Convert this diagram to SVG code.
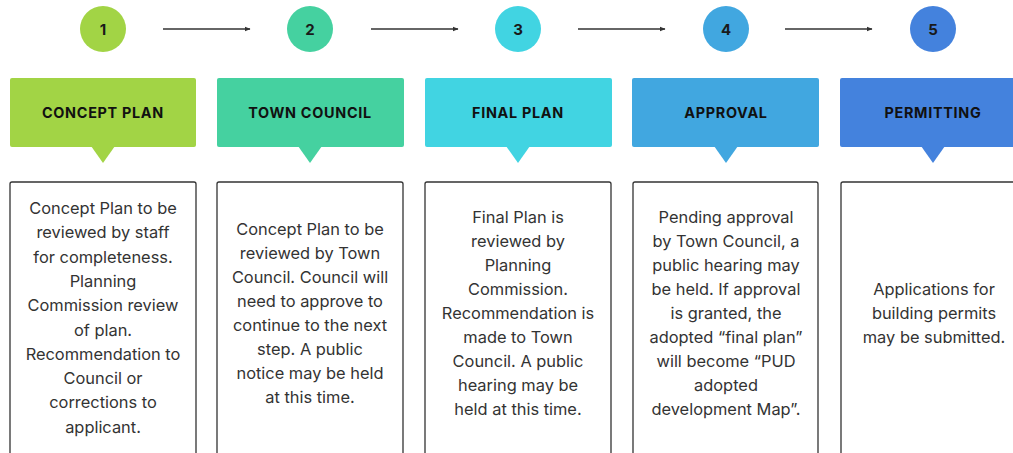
<svg xmlns="http://www.w3.org/2000/svg" width="1013" height="453" viewBox="0 0 1013 453">
<style>
.num{font-family:Inter,"Liberation Sans",sans-serif;font-weight:700;font-size:15px;fill:#1a1a1a;text-anchor:middle}
.hd{font-family:Inter,"Liberation Sans",sans-serif;font-weight:700;font-size:14.4px;letter-spacing:0.7px;fill:#111;text-anchor:middle}
.bx{fill:#fff;stroke:#333;stroke-width:1.3}
.bt{font-family:Inter,"Liberation Sans",sans-serif;font-size:16.4px;fill:#333;text-anchor:middle}
.ar{stroke:#333;stroke-width:1.3;fill:none}
</style>
<defs>
<marker id="ah" viewBox="0 0 10 10" refX="9" refY="5" markerWidth="4.5" markerHeight="4.5" orient="auto" markerUnits="strokeWidth"><path d="M0,1 L10,5 L0,9 z" fill="#333"/></marker>
</defs>
<g id="connectors">
<line class="ar" x1="163" y1="29" x2="250" y2="29" marker-end="url(#ah)"/>
<line class="ar" x1="371" y1="29" x2="458" y2="29" marker-end="url(#ah)"/>
<line class="ar" x1="578" y1="29" x2="665" y2="29" marker-end="url(#ah)"/>
<line class="ar" x1="785" y1="29" x2="872" y2="29" marker-end="url(#ah)"/>
</g>
<g id="step1">
<circle cx="103" cy="29" r="23" fill="#A2D445"/>
<text class="num" x="103" y="34.5">1</text>
<rect x="10" y="78" width="186" height="69" rx="2" fill="#A2D445"/>
<path d="M91,146 L115,146 L103,163 z" fill="#A2D445"/>
<text class="hd" x="103" y="118">CONCEPT PLAN</text>
<rect class="bx" x="10" y="182" width="186" height="290" rx="2"/>
<text class="bt" x="103"><tspan x="103" y="214">Concept Plan to be</tspan><tspan x="103" y="238.3">reviewed by staff</tspan><tspan x="103" y="262.6">for completeness.</tspan><tspan x="103" y="286.9">Planning</tspan><tspan x="103" y="311.2">Commission review</tspan><tspan x="103" y="335.5">of plan.</tspan><tspan x="103" y="359.8">Recommendation to</tspan><tspan x="103" y="384.1">Council or</tspan><tspan x="103" y="408.4">corrections to</tspan><tspan x="103" y="432.7">applicant.</tspan></text>
</g>
<g id="step2">
<circle cx="310" cy="29" r="23" fill="#45D1A0"/>
<text class="num" x="310" y="34.5">2</text>
<rect x="217" y="78" width="187" height="69" rx="2" fill="#45D1A0"/>
<path d="M298,146 L322,146 L310,163 z" fill="#45D1A0"/>
<text class="hd" x="310" y="118">TOWN COUNCIL</text>
<rect class="bx" x="217" y="182" width="186" height="290" rx="2"/>
<text class="bt"><tspan x="310" y="235">Concept Plan to be</tspan><tspan x="310" y="259">reviewed by Town</tspan><tspan x="310" y="283">Council. Council will</tspan><tspan x="310" y="307">need to approve to</tspan><tspan x="310" y="331">continue to the next</tspan><tspan x="310" y="355">step. A public</tspan><tspan x="310" y="379">notice may be held</tspan><tspan x="310" y="403">at this time.</tspan></text>
</g>
<g id="step3">
<circle cx="518" cy="29" r="23" fill="#41D4E2"/>
<text class="num" x="518" y="34.5">3</text>
<rect x="425" y="78" width="187" height="69" rx="2" fill="#41D4E2"/>
<path d="M506,146 L530,146 L518,163 z" fill="#41D4E2"/>
<text class="hd" x="518" y="118">FINAL PLAN</text>
<rect class="bx" x="425" y="182" width="186" height="290" rx="2"/>
<text class="bt"><tspan x="518" y="223">Final Plan is</tspan><tspan x="518" y="247">reviewed by</tspan><tspan x="518" y="271">Planning</tspan><tspan x="518" y="295">Commission.</tspan><tspan x="518" y="319">Recommendation is</tspan><tspan x="518" y="343">made to Town</tspan><tspan x="518" y="367">Council. A public</tspan><tspan x="518" y="391">hearing may be</tspan><tspan x="518" y="415">held at this time.</tspan></text>
</g>
<g id="step4">
<circle cx="726" cy="29" r="23" fill="#41A7E0"/>
<text class="num" x="726" y="34.5">4</text>
<rect x="632" y="78" width="187" height="69" rx="2" fill="#41A7E0"/>
<path d="M714,146 L738,146 L726,163 z" fill="#41A7E0"/>
<text class="hd" x="726" y="118">APPROVAL</text>
<rect class="bx" x="633" y="182" width="185" height="290" rx="2"/>
<text class="bt"><tspan x="726" y="223">Pending approval</tspan><tspan x="726" y="247">by Town Council, a</tspan><tspan x="726" y="271">public hearing may</tspan><tspan x="726" y="295">be held. If approval</tspan><tspan x="726" y="319">is granted, the</tspan><tspan x="726" y="343">adopted “final plan”</tspan><tspan x="726" y="367">will become “PUD</tspan><tspan x="726" y="391">adopted</tspan><tspan x="726" y="415">development Map”.</tspan></text>
</g>
<g id="step5">
<circle cx="933" cy="29" r="23" fill="#4482DD"/>
<text class="num" x="933" y="34.5">5</text>
<rect x="840" y="78" width="187" height="69" rx="2" fill="#4482DD"/>
<path d="M921,146 L945,146 L933,163 z" fill="#4482DD"/>
<text class="hd" x="933" y="118">PERMITTING</text>
<rect class="bx" x="841" y="182" width="186" height="290" rx="2"/>
<text class="bt"><tspan x="934" y="295">Applications for</tspan><tspan x="934" y="319">building permits</tspan><tspan x="934" y="343">may be submitted.</tspan></text>
</g>
</svg>
